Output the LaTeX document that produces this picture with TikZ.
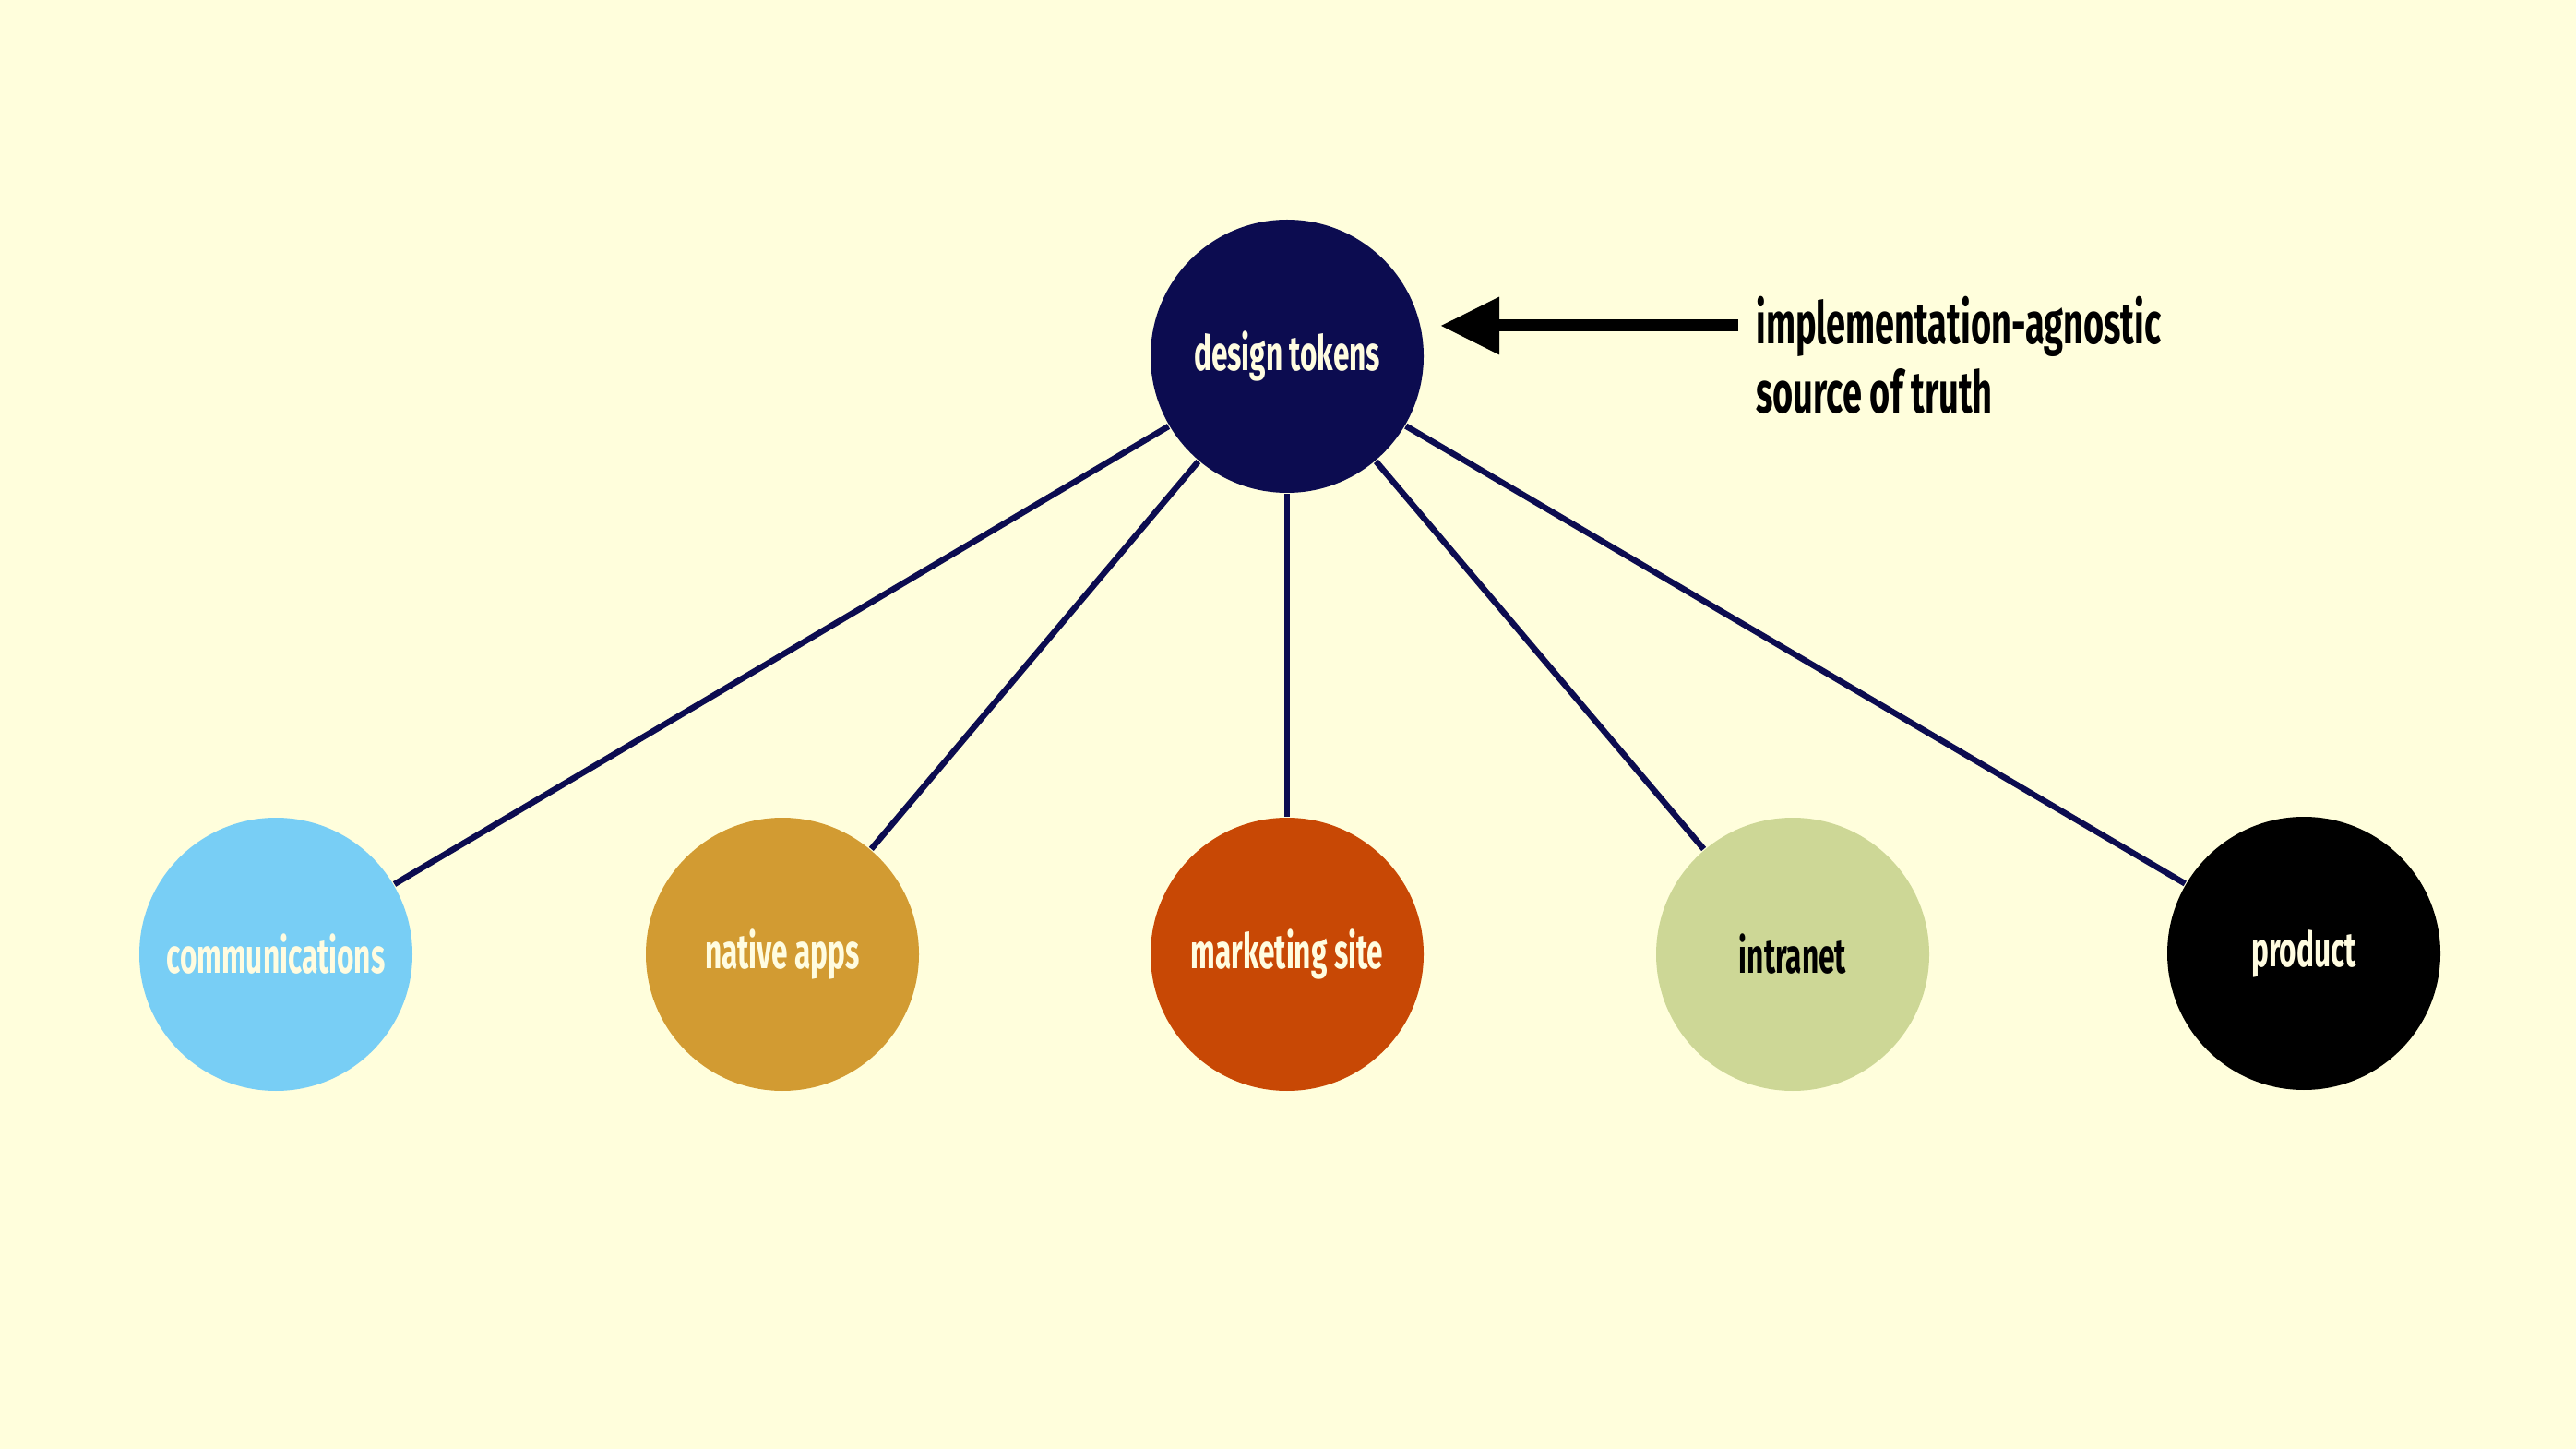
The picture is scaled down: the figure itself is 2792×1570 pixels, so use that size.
\documentclass[tikz,border=0pt]{standalone}
\usepackage{fontspec}
\newfontfamily\slidefont{Fira Sans}[FakeStretch=0.6]
\usetikzlibrary{arrows.meta}

\definecolor{paper}{RGB}{255,254,220}
\definecolor{navy}{RGB}{12,12,80}
\definecolor{skyblue}{RGB}{120,206,245}
\definecolor{ochre}{RGB}{210,155,50}
\definecolor{rust}{RGB}{200,72,5}
\definecolor{sage}{RGB}{205,215,150}
\definecolor{cream}{RGB}{255,252,224}

\tikzset{
  every picture/.style={line width=0.75pt},
  bubble/.style={circle, minimum size=29.6mm, inner sep=0pt, text=cream,
    font=\slidefont\bfseries\fontsize{15}{17}\selectfont},
  spoke/.style={draw=navy, line width=0.65mm},
  pointer/.style={line width=1.3mm, -{Triangle[length=6.4mm,width=5.9mm]}},
}

\begin{document}
\begin{tikzpicture}[x=0.1mm,y=-0.1mm]
	\fill[paper] (0,0) rectangle (2792,1570);
	\useasboundingbox (0,0) rectangle (2792,1570);

	% source and its consumers
	\node[bubble, fill=navy] (tokens) at (1395,386) {design tokens};
	\node[bubble, fill=skyblue] (comms) at (299,1034) {communications};
	\node[bubble, fill=ochre] (apps) at (848,1034) {native apps};
	\node[bubble, fill=rust] (site) at (1395,1034) {marketing site};
	\node[bubble, fill=sage, text=black] (intranet) at (1943,1034) {intranet};
	\node[bubble, fill=black] (product) at (2497,1033) {product};

	\foreach \n in {comms,apps,site,intranet,product}
		\draw[spoke] (tokens) -- (\n);

	% annotation
	\node[anchor=north west, inner sep=0pt, align=left,
	  font=\slidefont\bfseries\fontsize{18}{21.3}\selectfont] (note) at (1902,320)
	  {implementation-agnostic\\source of truth};
	\coordinate (tail) at (1884,353);
	\coordinate (tip) at (1561,353);
	\draw[pointer] (tail) -- (tip);
\end{tikzpicture}
\end{document}
